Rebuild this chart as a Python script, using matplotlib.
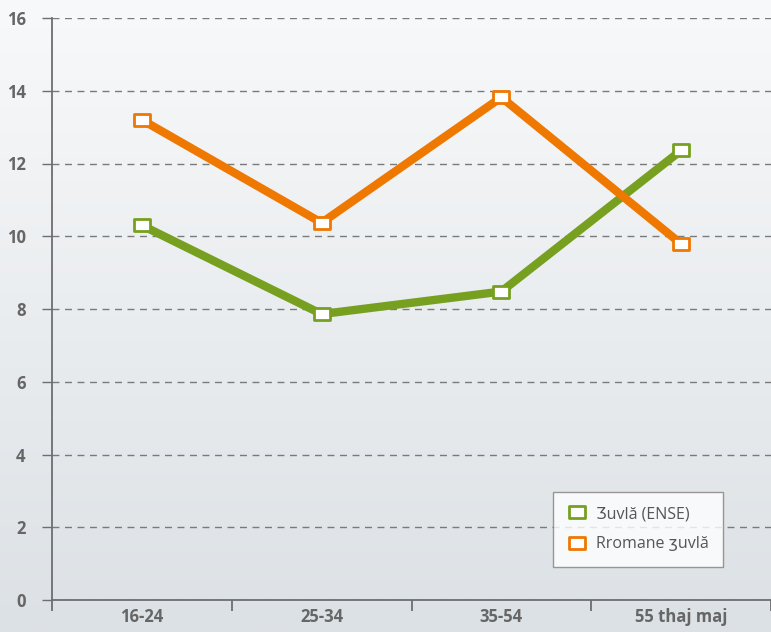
import numpy as np
import matplotlib
matplotlib.use("Agg")
import matplotlib.pyplot as plt
from matplotlib.path import Path
from matplotlib.lines import Line2D

# dados
categorias = ["16-24", "25-34", "35-54", "55 thaj maj"]
zuvla_ense = [10.3, 7.86, 8.48, 12.36]
rromane_zuvla = [13.2, 10.37, 13.82, 9.79]
nomes = ["Ʒuvlă (ENSE)", "Rromane ʒuvlă"]

verde = "#77a020"
laranja = "#ef7800"
cinza = "#6d6e71"

plt.rcParams["font.family"] = ["Open Sans", "DejaVu Sans"]

fig = plt.figure(figsize=(7.71, 6.32), dpi=100)

# fundo em degradê
bg = fig.add_axes([0, 0, 1, 1], zorder=-10)
grad = np.linspace(0, 1, 256).reshape(-1, 1)
cmap = matplotlib.colors.LinearSegmentedColormap.from_list("bg", ["#f8f9fa", "#dce1e5"])
bg.imshow(grad, aspect="auto", cmap=cmap, extent=[0, 1, 0, 1], origin="upper")
bg.axis("off")

ax = fig.add_axes([52 / 771, 32 / 632, 719 / 771, 582 / 632])
ax.patch.set_alpha(0)

# marcador retangular
ret = Path([(-1, -0.66), (1, -0.66), (1, 0.66), (-1, 0.66), (-1, -0.66)],
           [Path.MOVETO, Path.LINETO, Path.LINETO, Path.LINETO, Path.CLOSEPOLY])

x = np.arange(len(categorias))
ax.plot(x, zuvla_ense, color=verde, linewidth=6, marker=ret, markersize=12,
        markerfacecolor="white", markeredgecolor=verde, markeredgewidth=2, zorder=3)
ax.plot(x, rromane_zuvla, color=laranja, linewidth=6, marker=ret, markersize=12,
        markerfacecolor="white", markeredgecolor=laranja, markeredgewidth=2, zorder=3)

ax.set_xlim(-0.5, 3.5)
ax.set_ylim(0, 16)
ax.set_yticks(range(0, 17, 2))
ax.set_xticks(x)
ax.set_xticklabels(categorias)
ax.set_xticks(np.arange(-0.5, 4, 1), minor=True)

ax.tick_params(axis="x", which="major", length=0, pad=6)
ax.tick_params(axis="x", which="minor", length=8, width=1.3, color=cinza, direction="out")
ax.tick_params(axis="y", length=7, width=1, color=cinza, pad=12)
for lab in ax.get_xticklabels() + ax.get_yticklabels():
    lab.set_fontweight("bold")
    lab.set_fontsize(12)
    lab.set_color("#666666")

ax.grid(axis="y", linestyle=(0, (5, 4)), color="#7a7a7a", linewidth=1)
ax.set_axisbelow(True)
for lado in ["top", "right"]:
    ax.spines[lado].set_visible(False)
for lado in ["left", "bottom"]:
    ax.spines[lado].set_color(cinza)
    ax.spines[lado].set_linewidth(1.3)

handles = [Line2D([], [], linestyle="none", marker=ret, markersize=12,
                  markerfacecolor="white", markeredgecolor=c, markeredgewidth=2)
           for c in (verde, laranja)]
leg = ax.legend(handles, nomes, loc="lower left", bbox_to_anchor=(0.697, 0.057),
                frameon=True, fancybox=False, fontsize=11.5, labelcolor="#555555",
                borderpad=0.9, labelspacing=0.9, handletextpad=0.6, handlelength=1.2,
                borderaxespad=0)
leg.get_frame().set_edgecolor("#808080")
leg.get_frame().set_linewidth(1)
leg.get_frame().set_facecolor("white")

fig.savefig("out.png", dpi=100)
